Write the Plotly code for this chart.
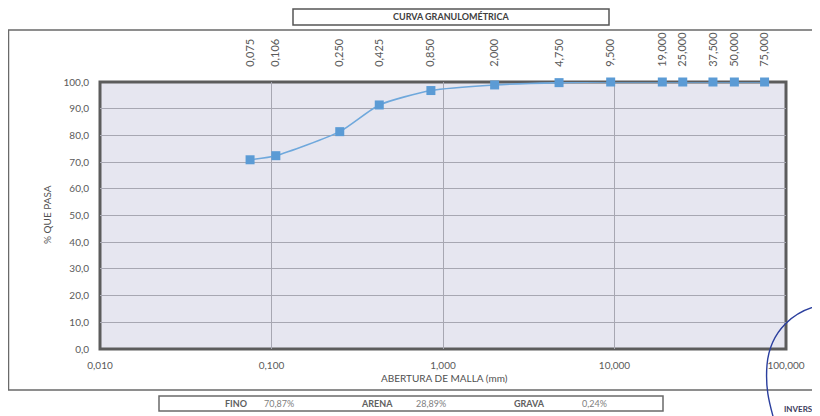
import plotly.graph_objects as go

# ---- data ----
sieve_mm = [0.075, 0.106, 0.250, 0.425, 0.850, 2.000, 4.750, 9.500, 19.000, 25.000, 37.500, 50.000, 75.000]
pct_passing = [70.87, 72.4, 81.4, 91.4, 96.8, 98.9, 99.76, 100.0, 100.0, 100.0, 100.0, 100.0, 100.0]
top_tick_labels = ["0,075", "0,106", "0,250", "0,425", "0,850", "2,000", "4,750", "9,500",
                   "19,000", "25,000", "37,500", "50,000", "75,000"]
bottom_tick_vals = [0.01, 0.1, 1, 10, 100]
y_tick_vals = [0, 10, 20, 30, 40, 50, 60, 70, 80, 90, 100]
summary_labels = ["FINO", "ARENA", "GRAVA"]
summary_values = ["70,87%", "28,89%", "0,24%"]

OFF = 8  # page body margin offset
W, H = 820 - OFF, 416 - OFF
L, R, T, B = 100, 786, 82, 349  # plot area in window px

def px(x):
    return (x - L) / (R - L)

def py(y):
    return (B - y) / (B - T)

FONT = "Lato"
GREY = "#5a5a5a"

fig = go.Figure()
fig.add_trace(go.Scatter(
    x=sieve_mm, y=pct_passing, mode="lines+markers",
    line=dict(color="#6fa8dc", width=1.6, shape="spline", smoothing=0.6),
    marker=dict(symbol="square", size=9, color="#5b9bd5"),
    cliponaxis=False, showlegend=False, hoverinfo="x+y"))
fig.add_trace(go.Scatter(
    x=sieve_mm, y=pct_passing, xaxis="x2", mode="markers",
    marker=dict(opacity=0), showlegend=False, hoverinfo="skip"))

shapes = []
shapes.append(dict(type="rect", xref="paper", yref="paper",
                   x0=px(8.5), x1=px(824), y0=py(30), y1=py(390),
                   line=dict(color="#6a6a6a", width=1.5), layer="below"))
shapes.append(dict(type="rect", xref="paper", yref="paper",
                   x0=px(293), x1=px(609), y0=py(9), y1=py(25),
                   line=dict(color="#555555", width=1.5)))
shapes.append(dict(type="rect", xref="paper", yref="paper",
                   x0=px(159), x1=px(663), y0=py(396), y1=py(411),
                   line=dict(color="#6a6a6a", width=1.5)))
shapes.append(dict(type="rect", xref="paper", yref="paper",
                   x0=0, x1=1, y0=0, y1=1,
                   line=dict(color="#5c5c5c", width=3), layer="below"))
shapes.append(dict(type="path", xref="paper", yref="paper",
                   path=("M {:.4f},{:.4f} C {:.4f},{:.4f} {:.4f},{:.4f} {:.4f},{:.4f} "
                         "C {:.4f},{:.4f} {:.4f},{:.4f} {:.4f},{:.4f}").format(
                       px(822), py(305),
                       px(795), py(310), px(770), py(330), px(767), py(365),
                       px(765), py(390), px(770), py(405), px(774), py(420)),
                   line=dict(color="#2b3f9e", width=1.4)))

def ann(text, x, y, size, color, xanchor="center", angle=0):
    return dict(text=text, xref="paper", yref="paper", x=px(x), y=py(y),
                xanchor=xanchor, yanchor="middle", showarrow=False, textangle=angle,
                font=dict(family=FONT, size=size, color=color))

annotations = [
    ann("<b>CURVA GRANULOMÉTRICA</b>", 451, 16, 9, "#404040"),
    ann("ABERTURA DE MALLA (mm)", 444, 378, 10, "#505050"),
    ann("% QUE PASA", 47, 215, 10, "#505050", angle=-90),
    ann("<b>INVERSIO</b>", 782, 409, 8, "#3a3a5a", xanchor="left"),
]
lab_x = [236, 377, 529]
val_x = [279, 431, 594]
for i in range(3):
    annotations.append(ann("<b>" + summary_labels[i] + "</b>", lab_x[i], 403.5, 9, "#606060"))
    annotations.append(ann(summary_values[i], val_x[i], 403.5, 9, "#808080"))

fig.update_layout(
    width=W, height=H,
    margin=dict(l=L - OFF, r=820 - R, t=T - OFF, b=416 - B, pad=0),
    paper_bgcolor="white", plot_bgcolor="#e6e6f0",
    separators=",.",
    font=dict(family=FONT, size=10, color=GREY),
    shapes=shapes, annotations=annotations,
    xaxis=dict(type="log", range=[-2, 2], tickvals=bottom_tick_vals, tickformat=".3f",
               showgrid=True, gridcolor="#a7a7b2", gridwidth=1,
               ticks="outside", ticklen=7, tickcolor="rgba(0,0,0,0)",
               showline=False, zeroline=False, layer="below traces",
               tickfont=dict(family=FONT, size=10, color=GREY)),
    xaxis2=dict(type="log", range=[-2, 2], overlaying="x", side="top",
                tickvals=sieve_mm, ticktext=top_tick_labels, tickangle=-90,
                showgrid=False, ticks="outside", ticklen=12, tickcolor="rgba(0,0,0,0)",
                showline=False, zeroline=False, layer="below traces",
                tickfont=dict(family=FONT, size=11, color=GREY)),
    yaxis=dict(range=[0, 100], tickvals=y_tick_vals, tickformat=".1f",
               showgrid=True, gridcolor="#a7a7b2", gridwidth=1,
               ticks="outside", ticklen=8, tickcolor="rgba(0,0,0,0)",
               showline=False, zeroline=False, layer="below traces",
               tickfont=dict(family=FONT, size=10, color=GREY)),
)

fig.write_html("out.html")
